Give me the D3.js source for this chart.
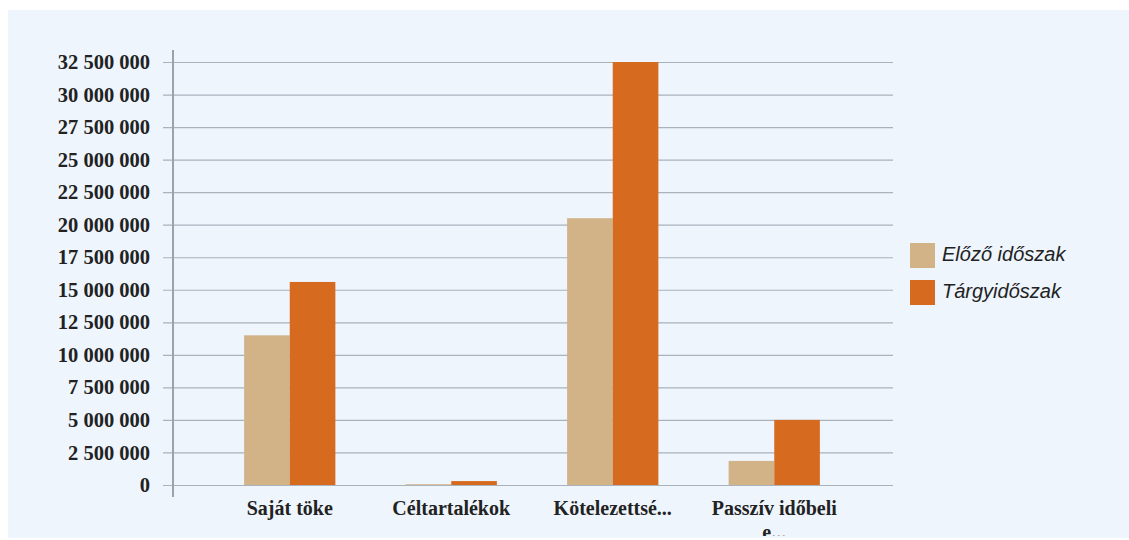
<!DOCTYPE html>
<html>
<head>
<meta charset="utf-8">
<script src="https://cdn.jsdelivr.net/npm/d3@7"></script>
<style>
  body { margin: 0; background: #ffffff; }
  svg { display: block; }
</style>
</head>
<body>
<div id="chart"></div>
<script>
// chart data
const categories = ["Saját töke", "Céltartalékok", "Kötelezettsé...", "Passzív időbeli\ne..."]
const seriesNames = ["Előző időszak", "Tárgyidőszak"]
const elozo = [11500000, 60000, 20500000, 1850000]
const targy = [15600000, 300000, 32500000, 5000000]
const yTicks = [0, 2500000, 5000000, 7500000, 10000000, 12500000, 15000000, 17500000,
    20000000, 22500000, 25000000, 27500000, 30000000, 32500000]

const width = 1129, height = 540
const colors = ["#d2b287", "#d66a1e"]

var svg = d3.select("#chart")
    .append("svg")
    .attr("width", width)
    .attr("height", height)

// light panel behind chart
svg.append("rect")
    .attr("x", 8).attr("y", 10)
    .attr("width", width - 8).attr("height", 528)
    .attr("fill", "#eef5fd")

svg.append("clipPath").attr("id", "panel")
    .append("rect")
    .attr("x", 8).attr("y", 10)
    .attr("width", width - 8).attr("height", 526)

var y = d3.scaleLinear()
    .domain([0, 32500000])
    .range([485, 62])

var x0 = d3.scaleBand()
    .domain(categories)
    .range([209, 855])
    .paddingInner(0.435)
    .paddingOuter(0.2175)

var x1 = d3.scaleBand()
    .domain(seriesNames)
    .range([0, x0.bandwidth()])

var fmt = v => d3.format(",")(v).replace(/,/g, " ")

// gridlines + y tick labels
var yAxis = d3.axisLeft(y)
    .tickValues(yTicks)
    .tickFormat(fmt)
    .tickSize(-(893 - 163))
    .tickPadding(13)

var gy = svg.append("g")
    .attr("transform", "translate(163,0)")
    .call(yAxis)
gy.select(".domain").remove()
gy.selectAll(".tick line")
    .attr("stroke", "#a9b2bd")
    .attr("stroke-width", 1.2)
gy.selectAll(".tick text")
    .attr("fill", "#222")
    .style("font-family", "'Liberation Serif', 'Times New Roman', serif")
    .style("font-weight", "bold")
    .style("font-size", "20.5px")

// data as rows
var rows = categories.map((c, i) => ({cat: c, values: [elozo[i], targy[i]]}))

svg.selectAll(".grp")
    .data(rows)
    .enter()
    .append("g")
    .attr("class", "grp")
    .attr("transform", d => "translate(" + x0(d.cat) + ",0)")
    .selectAll("rect")
    .data(d => d.values.map((v, j) => ({name: seriesNames[j], value: v, j: j})))
    .enter()
    .append("rect")
    .attr("x", d => x1(d.name))
    .attr("width", x1.bandwidth())
    .attr("y", d => y(d.value))
    .attr("height", d => y(0) - y(d.value))
    .attr("fill", d => colors[d.j])

// y axis line
svg.append("line")
    .attr("x1", 173).attr("x2", 173)
    .attr("y1", 50).attr("y2", 497)
    .attr("stroke", "#9aa2ad")
    .attr("stroke-width", 2)

// category labels
var xl = svg.append("g").attr("clip-path", "url(#panel)")
xl.selectAll("text")
    .data(categories)
    .enter()
    .append("text")
    .attr("x", d => x0(d) + x0.bandwidth() / 2)
    .attr("y", 515)
    .attr("text-anchor", "middle")
    .attr("fill", "#222")
    .style("font-family", "'Liberation Serif', 'Times New Roman', serif")
    .style("font-weight", "bold")
    .style("font-size", "20px")
    .each(function (d) {
        var lines = d.split("\n")
        var t = d3.select(this)
        lines.forEach((l, i) => {
            t.append("tspan")
                .attr("x", x0(d) + x0.bandwidth() / 2)
                .attr("dy", i === 0 ? 0 : 24)
                .text(l)
        })
    })

// legend
var legend = svg.append("g")
seriesNames.forEach(function (n, i) {
    legend.append("rect")
        .attr("x", 910).attr("y", 243 + i * 37)
        .attr("width", 25).attr("height", 25)
        .attr("fill", colors[i])
    legend.append("text")
        .attr("x", 942).attr("y", 256 + i * 37)
        .attr("dominant-baseline", "middle")
        .attr("fill", "#222")
        .style("font-family", "'Liberation Sans', Arial, sans-serif")
        .style("font-style", "italic")
        .style("font-size", "20px")
        .text(n)
})
</script>
</body>
</html>
